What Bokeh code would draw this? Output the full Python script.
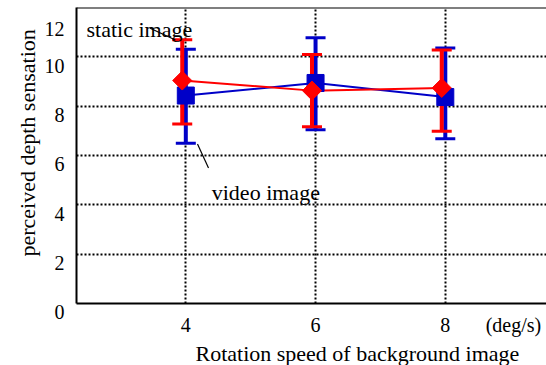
from bokeh.plotting import figure
from bokeh.models import Range1d, FixedTicker, Span, Title, ColumnDataSource, Label
from bokeh.transform import dodge
from bokeh.embed import file_html
from bokeh.resources import INLINE

# ---- data ----
speeds = [4, 6, 8]
video_mean = [8.43, 8.94, 8.37]
video_upper = [10.31, 10.77, 10.36]
video_lower = [6.50, 7.04, 6.68]
static_mean = [9.04, 8.63, 8.74]
static_upper = [10.69, 10.09, 10.28]
static_lower = [7.28, 7.17, 6.98]

x_ticks = [4, 6, 8]
y_ticks = [0, 2, 4, 6, 8, 10, 12]
y_grid = [2, 4, 6, 8, 10]
unit_tick = 9.05
unit_label = "(deg/s)"
x_title = "Rotation speed of background image"
y_title = "perceived depth sensation"

# annotation texts and leader lines
static_label = ("static image", 2.47, 11.09)
video_label = ("video image", 4.40, 4.49)
static_leader_x = [3.45, 3.84]
static_leader_y = [11.16, 10.68]
video_leader_x = [4.18, 4.35]
video_leader_y = [6.47, 5.49]

FONT = "Liberation Serif"
BLUE = "#0000c8"
RED = "#ff0000"

src = ColumnDataSource(dict(x=speeds, vm=video_mean, vu=video_upper, vl=video_lower,
                            sm=static_mean, su=static_upper, sl=static_lower))

x_range = Range1d(2.315, 9.56)
y_range = Range1d(0, 12)
p = figure(width=546, height=365, output_backend="svg", toolbar_location=None,
           x_range=x_range, y_range=y_range,
           min_border_left=76, min_border_right=0, min_border_top=7, min_border_bottom=62)
p.outline_line_color = None
p.background_fill_color = "white"

# grid
p.xgrid.ticker = FixedTicker(ticks=x_ticks)
p.ygrid.ticker = FixedTicker(ticks=y_grid)
for g in (p.xgrid, p.ygrid):
    g.grid_line_color = "black"
    g.grid_line_dash = "2 2"
    g.grid_line_width = 2

# axes
p.xaxis.ticker = FixedTicker(ticks=x_ticks + [unit_tick])
p.xaxis.major_label_overrides = {unit_tick: unit_label}
p.yaxis.ticker = FixedTicker(ticks=y_ticks)
# an empty first line drops each y label a little below its tick, as in the reference
p.yaxis.major_label_overrides = {t: "\n" + str(t) for t in y_ticks}
p.yaxis.major_label_text_line_height = 0.8
for ax in (p.xaxis, p.yaxis):
    ax.axis_line_width = 2
    ax.axis_line_color = "black"
    ax.major_tick_line_color = None
    ax.minor_tick_line_color = None
    ax.major_tick_out = 0
    ax.major_tick_in = 0
    ax.major_label_text_font = FONT
    ax.major_label_text_font_size = "20px"
    ax.major_label_text_color = "black"
p.xaxis.major_label_standoff = 10
p.yaxis.major_label_standoff = 12

# top frame line
p.add_layout(Span(location=y_range.end, dimension="width", line_color="black", line_width=2))

# titles
p.add_layout(Title(text=x_title, text_font=FONT, text_font_size="22px", text_font_style="normal",
                   text_color="black", align="left", offset=119, standoff=0), "below")
p.add_layout(Title(text=y_title, text_font=FONT, text_font_size="22px", text_font_style="normal",
                   text_color="black", align="left", offset=47, standoff=4), "left")

# video series (blue)
bx = dodge("x", 0.0, range=p.x_range)
p.line(bx, "vm", source=src, line_color=BLUE, line_width=2)
p.segment(x0=bx, y0="vl", x1=bx, y1="vu", source=src, line_color=BLUE, line_width=4)
p.scatter(bx, "vu", source=src, marker="dash", size=20, line_color=BLUE, line_width=3)
p.scatter(bx, "vl", source=src, marker="dash", size=20, line_color=BLUE, line_width=3)

# static series (red)
rx = dodge("x", -0.055, range=p.x_range)
p.line(rx, "sm", source=src, line_color=RED, line_width=2)
p.segment(x0=rx, y0="sl", x1=rx, y1="su", source=src, line_color=RED, line_width=4)
p.scatter(rx, "su", source=src, marker="dash", size=20, line_color=RED, line_width=3)
p.scatter(rx, "sl", source=src, marker="dash", size=20, line_color=RED, line_width=3)

p.scatter(bx, "vm", source=src, marker="square", size=17, fill_color=BLUE, line_color=BLUE)
p.scatter(rx, "sm", source=src, marker="square", angle=0.785398, size=13.5,
          fill_color=RED, line_color=RED)

# annotations
p.line(static_leader_x, static_leader_y, line_color="black", line_width=1.2)
p.line(video_leader_x, video_leader_y, line_color="black", line_width=1.2)
for txt, lx, ly in (static_label, video_label):
    p.add_layout(Label(x=lx, y=ly, text=txt, text_font=FONT, text_font_size="22px",
                       text_color="black", text_baseline="alphabetic", text_align="left"))

open("out.html", "w").write(file_html(p, INLINE))
